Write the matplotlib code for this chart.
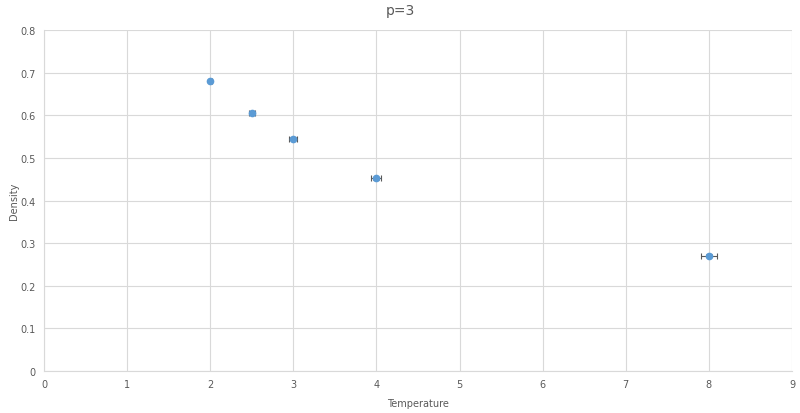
import matplotlib
matplotlib.use("Agg")
import matplotlib.pyplot as plt

temperature = [2, 2.5, 3, 4, 8]
density = [0.680, 0.606, 0.545, 0.452, 0.271]
temp_err = [0.02, 0.035, 0.05, 0.06, 0.1]
dens_err = [0.003, 0.003, 0.003, 0.003, 0.003]

x_ticks = list(range(0, 10))
y_ticks = [0, 0.1, 0.2, 0.3, 0.4, 0.5, 0.6, 0.7, 0.8]

text_color = "#595959"
grid_color = "#D9D9D9"
point_color = "#5B9BD5"

fig = plt.figure(figsize=(8, 4.14), dpi=100)
ax = fig.add_axes([0.055, 0.1014, 0.935, 0.8237])

ax.errorbar(temperature, density, xerr=temp_err, yerr=dens_err, fmt="o",
            color=point_color, markersize=4.5, ecolor="#595959", elinewidth=0.8,
            capsize=2.5, capthick=0.8, zorder=3)

ax.set_xlim(0, 9)
ax.set_ylim(0, 0.8)
ax.set_xticks(x_ticks)
ax.set_yticks(y_ticks)
ax.set_xticklabels([str(t) for t in x_ticks])
ax.set_yticklabels(["0"] + [f"{v:.1f}" for v in y_ticks[1:]])
ax.grid(True, color=grid_color, linewidth=0.8)
ax.set_axisbelow(True)
for s in ["top", "right"]:
    ax.spines[s].set_visible(False)
for s in ["left", "bottom"]:
    ax.spines[s].set_color(grid_color)
    ax.spines[s].set_linewidth(0.8)
ax.tick_params(length=0, colors=text_color, labelsize=7, pad=6)

ax.set_xlabel("Temperature", color=text_color, fontsize=7, labelpad=6)
ax.set_ylabel("Density", color=text_color, fontsize=7, labelpad=1)
fig.suptitle("p=3", color=text_color, fontsize=10, y=0.99)

fig.savefig("out.png", dpi=100)
